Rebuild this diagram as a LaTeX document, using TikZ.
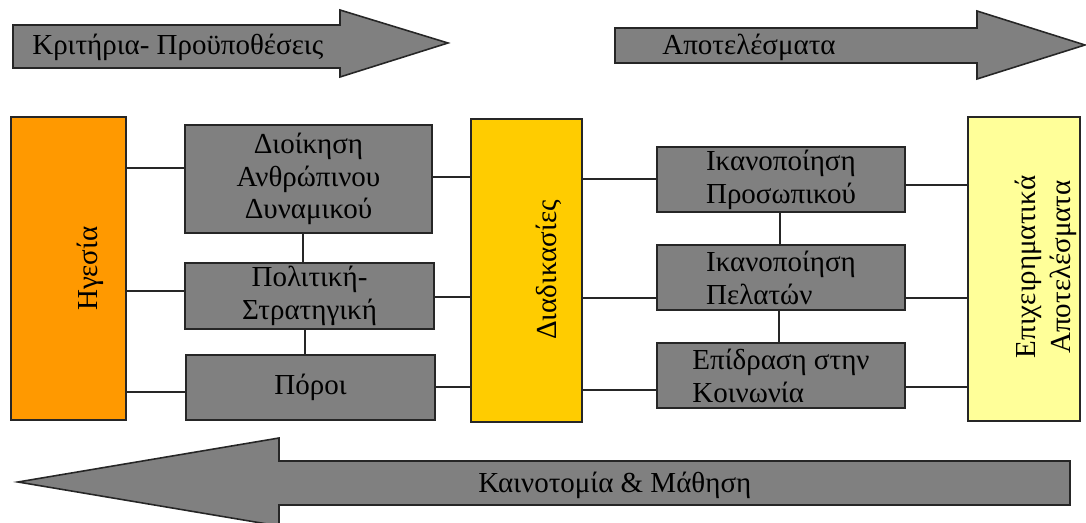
\documentclass[tikz,border=0pt]{standalone}
\usepackage{fontspec}
\setmainfont{Liberation Serif}

\definecolor{boxgray}{HTML}{808080}
\definecolor{leadorange}{HTML}{FF9900}
\definecolor{procyellow}{HTML}{FFCC00}
\definecolor{reslight}{HTML}{FFFF99}

\begin{document}
\begin{tikzpicture}[x=0.02cm, y=-0.02cm,
    every node/.style={font=\fontsize{16.5}{18.7}\selectfont},
    greybox/.style={draw=black!85, line width=1pt, fill=boxgray, inner sep=0pt},
    pillar/.style={draw=black!85, line width=1pt, inner sep=0pt, minimum height=6.06cm},
    bigarrow/.style={draw=black!85, line width=0.9pt, fill=boxgray},
    link/.style={draw=black!85, line width=0.8pt},
    upright/.style={rotate=90, inner sep=0pt, anchor=base},
    arrowtext/.style={anchor=base west, inner sep=0pt}]

        \useasboundingbox (0,0) rectangle (1086,523);

        \draw[bigarrow] (13,25) -- (340,25) -- (340,10) -- (448,43)
            -- (340,77) -- (340,68) -- (13,68) -- cycle;
        \draw[bigarrow] (615,28) -- (977,28) -- (977,11) -- (1085,45)
            -- (977,79) -- (977,63) -- (615,63) -- cycle;
        \draw[bigarrow] (1070,461) -- (279,461) -- (279,438) -- (18,482)
            -- (279,526) -- (279,505) -- (1070,505) -- cycle;

        \node[arrowtext] (crit) at (32,55) {Κριτήρια- Προϋποθέσεις};
        \node[arrowtext] (apot) at (662,55) {Αποτελέσματα};
        \node[arrowtext] (kain) at (478,493) {Καινοτομία \& Μάθηση};

        \node[pillar, fill=leadorange, minimum width=2.3cm] (hgesia) at (68.5,268.5) {};
        \node[upright] (hgesia-txt) at (97,268.5) {Ηγεσία};

        \node[pillar, fill=procyellow, minimum width=2.22cm] (diad) at (526.5,270.5) {};
        \node[upright] (diad-txt) at (556,270) {Διαδικασίες};

        \node[pillar, fill=reslight, minimum width=2.24cm, minimum height=6.08cm] (epix) at (1024,269) {};
        \node[rotate=90, align=center, inner sep=0pt, font=\fontsize{16.5}{19.9}\selectfont]
            (epix-txt) at (1045.5,267) {Επιχειρηματικά\\Αποτελέσματα};

        \node[greybox, minimum width=4.94cm, minimum height=2.16cm, align=center]
            (dioik) at (308.5,179) {Διοίκηση\\Ανθρώπινου\\Δυναμικού};
        \node[greybox, minimum width=4.98cm, minimum height=1.32cm, align=center]
            (polit) at (309.5,296) {Πολιτική-\\Στρατηγική};
        \node[greybox, minimum width=4.98cm, minimum height=1.3cm]
            (poroi) at (310.5,387.5) {Πόροι};

        \node[greybox, minimum width=4.96cm, minimum height=1.3cm, align=left]
            (ikprosw) at (781,179.5) {Ικανοποίηση\\Προσωπικού};
        \node[greybox, minimum width=4.96cm, minimum height=1.3cm, align=left]
            (ikpel) at (781,277.5) {Ικανοποίηση\\Πελατών};
        \node[greybox, minimum width=4.96cm, minimum height=1.3cm, align=left]
            (epidr) at (781,375.5) {Επίδραση στην\\Κοινωνία};

        \draw[link] (hgesia.east |- 0,168) -- (dioik.west |- 0,168);
        \draw[link] (hgesia.east |- 0,291) -- (polit.west |- 0,291);
        \draw[link] (hgesia.east |- 0,392) -- (poroi.west |- 0,392);

        \draw[link] (dioik.east |- 0,177) -- (diad.west |- 0,177);
        \draw[link] (polit.east |- 0,297) -- (diad.west |- 0,297);
        \draw[link] (poroi.east |- 0,387) -- (diad.west |- 0,387);

        \draw[link] (dioik.south -| 303,0) -- (polit.north -| 303,0);
        \draw[link] (polit.south -| 305,0) -- (poroi.north -| 305,0);

        \draw[link] (diad.east |- 0,179) -- (ikprosw.west |- 0,179);
        \draw[link] (diad.east |- 0,298) -- (ikpel.west |- 0,298);
        \draw[link] (diad.east |- 0,390) -- (epidr.west |- 0,390);

        \draw[link] (ikprosw.east |- 0,185) -- (epix.west |- 0,185);
        \draw[link] (ikpel.east |- 0,298) -- (epix.west |- 0,298);
        \draw[link] (epidr.east |- 0,387) -- (epix.west |- 0,387);

        \draw[link] (ikprosw.south -| 780,0) -- (ikpel.north -| 780,0);
        \draw[link] (ikpel.south -| 779,0) -- (epidr.north -| 779,0);

\end{tikzpicture}
\end{document}
